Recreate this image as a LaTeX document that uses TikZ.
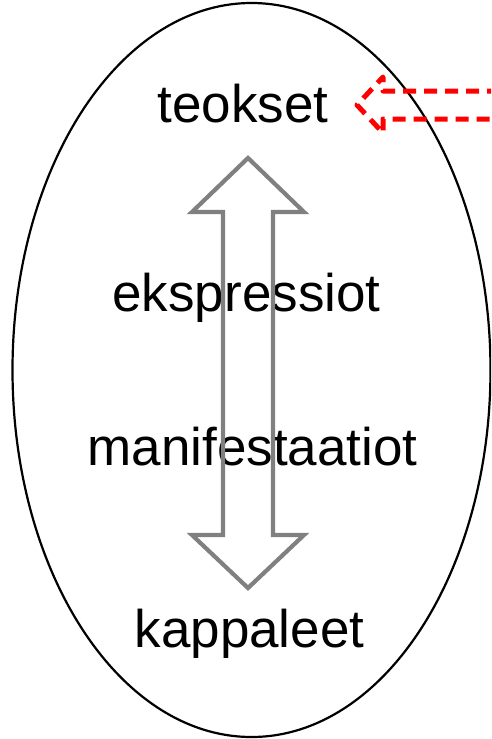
\documentclass[tikz,border=0pt]{standalone}
\usepackage{fontspec}
\setmainfont{Liberation Sans}
\begin{document}
\begin{tikzpicture}[x=1pt,y=-1pt,
  lbl/.style={anchor=base,inner sep=0pt,font=\fontsize{53}{60}\selectfont},
  bigarrow/.style={draw=black!50,line width=4.2pt,line join=miter},
  redarrow/.style={draw=red,line width=5pt,dash pattern=on 13pt off 8pt,line join=round}]
\useasboundingbox (0,0) rectangle (491,739);
\clip (0,0) rectangle (491,739);
\draw[line width=2.2pt] (251.5,370) ellipse [x radius=239, y radius=367];
\node[lbl] (teokset) at (243,122) {teokset};
\node[lbl] (ekspressiot) at (246.5,311) {ekspressiot};
\node[lbl] (manifestaatiot) at (252.5,465) {manifestaatiot};
\node[lbl] (kappaleet) at (249.5,647) {kappaleet};
\draw[bigarrow] (248,158) -- (304,212) -- (273,212) -- (273,535) -- (304,535)
  -- (248,588) -- (192,535) -- (223,535) -- (223,212) -- (192,212) -- cycle;
\draw[redarrow] (500,91) -- (383,91) -- (383,77) -- (357,105) -- (383,133) -- (383,119) -- (500,119);
\end{tikzpicture}
\end{document}
